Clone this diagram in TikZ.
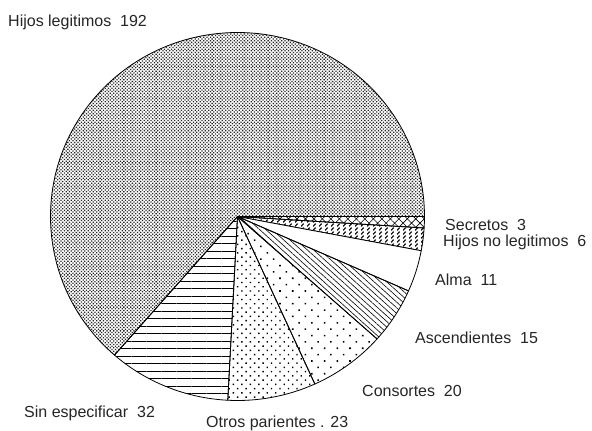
\documentclass[tikz,border=0pt]{standalone}
\usepackage{fontspec}
\setmainfont{Liberation Sans}
\usetikzlibrary{patterns,patterns.meta}
\pgfdeclarepattern{
  name=slashdash,
  type=uncolored,
  bottom left={\pgfpoint{-.5pt}{-.5pt}},
  top right={\pgfpoint{6.5pt}{4.5pt}},
  tile size={\pgfpoint{6pt}{4pt}},
  code={
    \pgfsetlinewidth{1.1pt}
    \pgfpathmoveto{\pgfpoint{1.2pt}{0.6pt}}
    \pgfpathlineto{\pgfpoint{3.6pt}{3.4pt}}
    \pgfusepath{stroke}
  }
}
\tikzset{
  slice/.style={draw=black, line width=0.8pt, line join=round},
  lbl/.style={anchor=base west, inner sep=0pt, font=\fontsize{16}{18}\selectfont, text=black!85},
}
\newcommand{\pieslice}[3]{%
  \fill[#3] (C) -- ++(#1:187 and 184) arc[start angle=#1, end angle=#2, x radius=187, y radius=184] -- cycle;
  \draw[slice] (C) -- ++(#1:187 and 184) arc[start angle=#1, end angle=#2, x radius=187, y radius=184] -- cycle;
}
\begin{document}
\begin{tikzpicture}[x=1pt,y=-1pt]
\useasboundingbox (0,0) rectangle (592,431);
\fill[white] (0,0) rectangle (592,431);
\coordinate (C) at (237.5,216.5);
% Hijos legitimos 192
\pieslice{131.13}{360}{pattern={Dots[radius=0.9pt, distance=2.4pt, angle=45]}, pattern color=black!85}
% Secretos 3
\pieslice{0}{3.58}{pattern={Hatch[angle=45, distance=6pt, line width=0.6pt]}}
% Hijos no legitimos 6
\pieslice{3.58}{10.73}{pattern=slashdash}
% Alma 11
\pieslice{10.73}{23.84}{white}
% Ascendientes 15
\pieslice{23.84}{41.72}{pattern={Lines[angle=-42, distance=4.2pt, line width=0.6pt]}}
% Consortes 20
\pieslice{41.72}{65.56}{pattern={Dots[radius=1.1pt, distance=9pt, angle=45]}}
% Otros parientes 23
\pieslice{65.56}{92.98}{pattern={Dots[radius=1pt, distance=6pt, angle=45]}}
% Sin especificar 32
\pieslice{92.98}{131.13}{pattern={Lines[angle=0, distance=7.5pt, line width=0.6pt]}}

\node[lbl] (l1) at (8,27) {Hijos legitimos\ \ 192};
\node[lbl] (l2) at (445,230) {Secretos\ \ 3};
\node[lbl] (l3) at (443,246) {Hijos no legitimos\ \ 6};
\node[lbl] (l4) at (435,285.5) {Alma\ \ 11};
\node[lbl] (l5) at (415,343) {Ascendientes\ \ 15};
\node[lbl] (l6) at (362,396) {Consortes\ \ 20};
\node[lbl] (l7) at (24,417) {Sin especificar\ \ 32};
\node[lbl] (l8) at (206,427) {Otros parientes . 23};
\end{tikzpicture}
\end{document}
